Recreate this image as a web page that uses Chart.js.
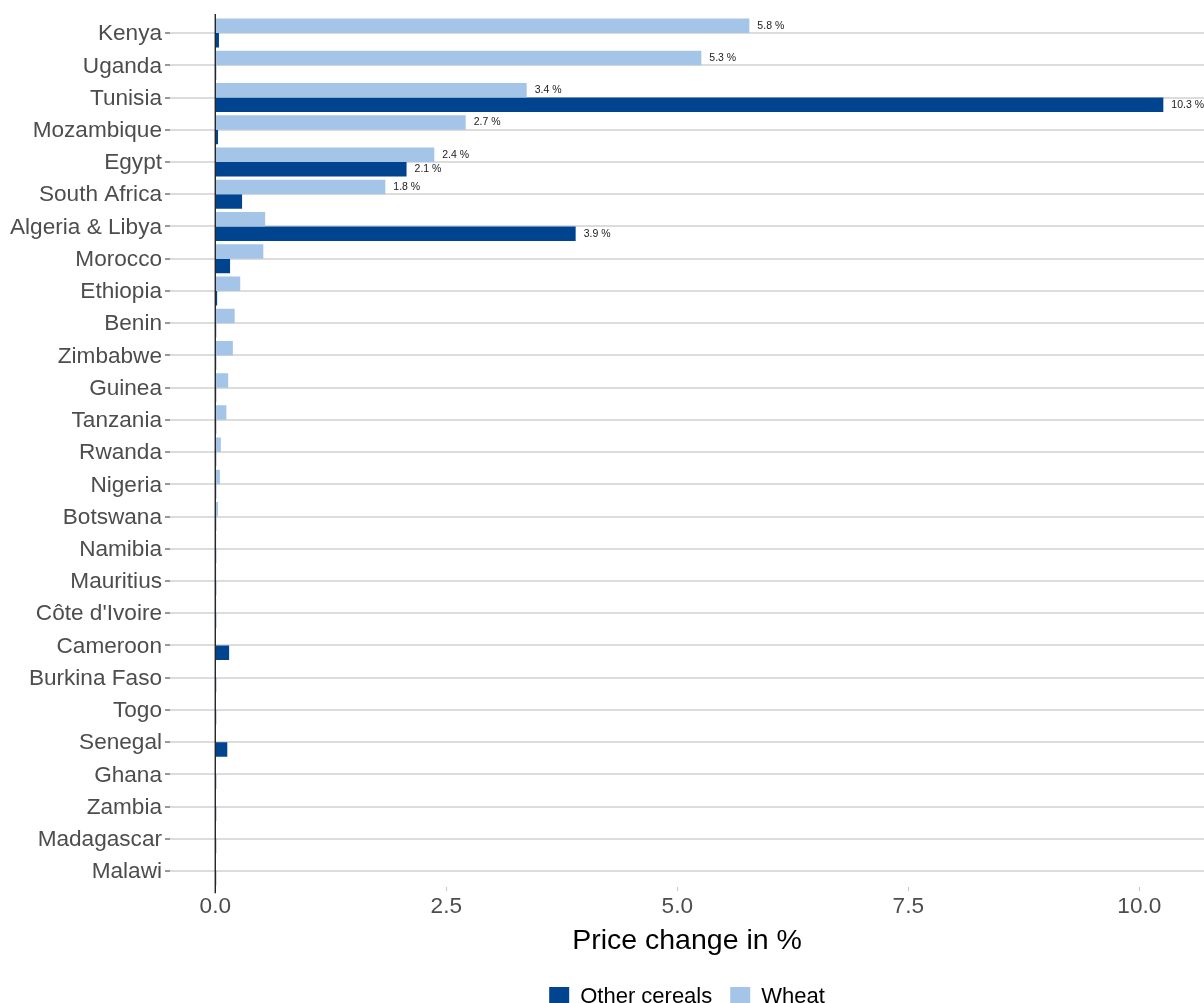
<!DOCTYPE html>
<html>
<head>
<meta charset="utf-8">
<script src="https://cdn.jsdelivr.net/npm/chart.js@4.4.1/dist/chart.umd.min.js"></script>
<style>
  html, body { margin: 0; padding: 0; background: #fff; }
  canvas { display: block; }
</style>
</head>
<body>
<canvas id="myChart" width="1204" height="1003"></canvas>
<script>
const countries = ['Kenya', 'Uganda', 'Tunisia', 'Mozambique', 'Egypt', 'South Africa',
  'Algeria & Libya', 'Morocco', 'Ethiopia', 'Benin', 'Zimbabwe', 'Guinea', 'Tanzania',
  'Rwanda', 'Nigeria', 'Botswana', 'Namibia', 'Mauritius', "Côte d'Ivoire", 'Cameroon',
  'Burkina Faso', 'Togo', 'Senegal', 'Ghana', 'Zambia', 'Madagascar', 'Malawi'];

const wheat = [5.78, 5.26, 3.37, 2.71, 2.37, 1.84, 0.54, 0.52, 0.27, 0.21, 0.19, 0.14, 0.12,
  0.06, 0.05, 0.03, 0.01, 0.01, 0.01, 0, 0, 0, 0, 0, 0, 0, 0];

const otherCereals = [0.04, 0.01, 10.26, 0.03, 2.07, 0.29, 3.9, 0.16, 0.02, 0.01, 0.01, 0.01, 0.01,
  0.01, 0.01, 0.01, 0.01, 0.01, 0.01, 0.15, 0.01, 0.01, 0.13, 0.01, 0.01, 0.01, 0.01];

const xTicks = [0, 2.5, 5, 7.5, 10];

const font = '"Liberation Sans", Arial, Helvetica, sans-serif';

// value labels at the end of the bigger bars
const barLabels = {
  id: 'barLabels',
  afterDatasetsDraw(chart) {
    const c = chart.ctx;
    c.save();
    c.font = '10.5px ' + font;
    c.fillStyle = '#1a1a1a';
    c.textAlign = 'left';
    c.textBaseline = 'middle';
    chart.data.datasets.forEach((ds, i) => {
      chart.getDatasetMeta(i).data.forEach((bar, j) => {
        const v = ds.data[j];
        if (v >= 1.5) c.fillText(v.toFixed(1) + ' %', bar.x + 8, bar.y);
      });
    });
    c.restore();
  }
};

// vertical line at zero, on top of the bars
const zeroLine = {
  id: 'zeroLine',
  afterDatasetsDraw(chart) {
    const c = chart.ctx;
    const x = chart.scales.x.getPixelForValue(0);
    c.save();
    c.strokeStyle = '#222';
    c.lineWidth = 1.4;
    c.beginPath();
    c.moveTo(x, chart.chartArea.top - 3);
    c.lineTo(x, chart.chartArea.bottom + 6);
    c.stroke();
    c.restore();
  }
};

const ctx = document.getElementById('myChart');

new Chart(ctx, {
  type: 'bar',
  data: {
    labels: countries,
    datasets: [
      {
        label: 'Wheat',
        data: wheat,
        backgroundColor: '#a4c4e8',
        categoryPercentage: 0.9,
        barPercentage: 1.0
      },
      {
        label: 'Other cereals',
        data: otherCereals,
        backgroundColor: '#00448f',
        categoryPercentage: 0.9,
        barPercentage: 1.0
      }
    ]
  },
  options: {
    indexAxis: 'y',
    responsive: false,
    animation: false,
    devicePixelRatio: 1,
    layout: { padding: { top: 17, right: 0, bottom: -15, left: 0 } },
    scales: {
      y: {
        grid: {
          offset: false,
          color: '#dcdcdc',
          lineWidth: 2,
          tickColor: '#333',
          tickWidth: 1,
          tickLength: 5
        },
        border: { display: false },
        ticks: {
          padding: 3,
          labelOffset: 1,
          color: '#4d4d4d',
          font: { family: font, size: 22.6 }
        },
        afterFit: (s) => { s.width = 170; }
      },
      x: {
        min: -0.49,
        max: 10.7,
        afterBuildTicks: (s) => { s.ticks = xTicks.map(v => ({ value: v })); },
        grid: {
          drawOnChartArea: false,
          tickLength: 4,
          tickColor: '#c8c8c8'
        },
        border: { display: false },
        ticks: {
          padding: 2,
          color: '#4d4d4d',
          font: { family: font, size: 22.6 },
          callback: (v) => Number(v).toFixed(1)
        },
        title: {
          display: true,
          text: 'Price change in %',
          color: '#000',
          font: { family: font, size: 28.5 },
          padding: { top: 2, bottom: 9.5 }
        }
      }
    },
    plugins: {
      legend: {
        position: 'bottom',
        fullSize: false,
        labels: {
          boxWidth: 20,
          boxHeight: 20,
          padding: 18,
          color: '#000',
          font: { family: font, size: 22 },
          sort: (a, b) => b.datasetIndex - a.datasetIndex
        }
      },
      tooltip: { enabled: false }
    }
  },
  plugins: [barLabels, zeroLine]
});
</script>
</body>
</html>
